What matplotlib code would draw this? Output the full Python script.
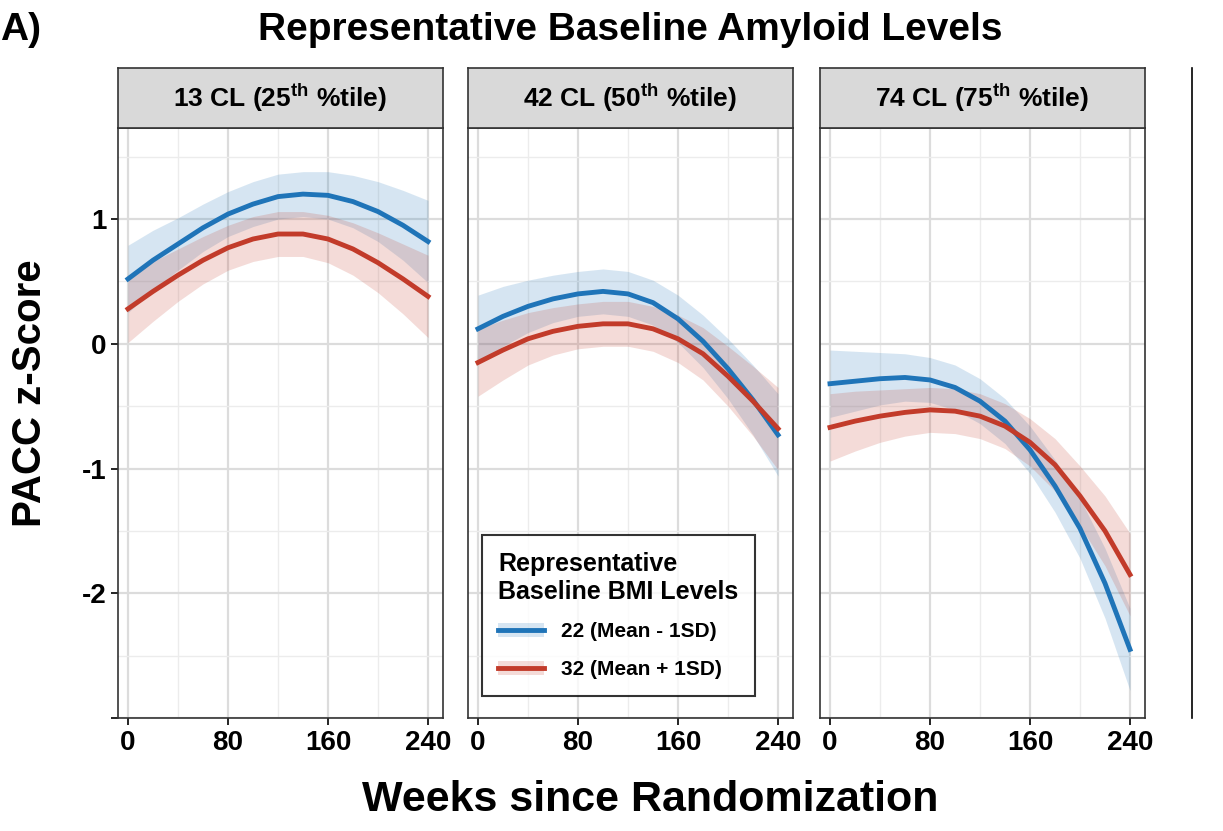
import numpy as np
import matplotlib.pyplot as plt
from matplotlib.patches import Patch
from matplotlib.lines import Line2D

plt.rcParams['font.family'] = ['Liberation Sans', 'DejaVu Sans']
plt.rcParams['axes.unicode_minus'] = False
plt.rcParams['mathtext.fontset'] = 'custom'
plt.rcParams['mathtext.bf'] = 'Liberation Sans:bold'

weeks = [0, 20, 40, 60, 80, 100, 120, 140, 160, 180, 200, 220, 240]
panel_titles = ["13 CL (25$^{\\mathbf{th}}$ %tile)", "42 CL (50$^{\\mathbf{th}}$ %tile)",
                "74 CL (75$^{\\mathbf{th}}$ %tile)"]
bmi_low = [
    [0.52, 0.67, 0.80, 0.93, 1.04, 1.12, 1.18, 1.20, 1.19, 1.14, 1.06, 0.95, 0.82],
    [0.12, 0.22, 0.30, 0.36, 0.40, 0.42, 0.40, 0.33, 0.20, 0.02, -0.20, -0.45, -0.73],
    [-0.32, -0.30, -0.28, -0.27, -0.29, -0.35, -0.46, -0.62, -0.85, -1.14, -1.48, -1.92, -2.45],
]
bmi_high = [
    [0.28, 0.42, 0.55, 0.67, 0.77, 0.84, 0.88, 0.88, 0.84, 0.76, 0.65, 0.52, 0.38],
    [-0.15, -0.05, 0.04, 0.10, 0.14, 0.16, 0.16, 0.12, 0.04, -0.08, -0.26, -0.46, -0.68],
    [-0.67, -0.62, -0.58, -0.55, -0.53, -0.54, -0.58, -0.66, -0.79, -0.97, -1.22, -1.50, -1.85],
]
halfwidth = [0.27, 0.24, 0.21, 0.19, 0.18, 0.18, 0.18, 0.18, 0.19, 0.21, 0.24, 0.28, 0.33]
series_labels = ["22 (Mean - 1SD)", "32 (Mean + 1SD)"]

BLUE = "#1f74b8"
RED = "#c23b2a"

fig = plt.figure(figsize=(12.23, 8.31), dpi=100)
lefts = [118, 468, 820]
W, H = 1223, 831
hw = np.array(halfwidth)
x = np.array(weeks)

for i in range(3):
    ax = fig.add_axes([lefts[i] / W, 1 - 718 / H, 325 / W, 590 / H])
    for vals, c in ((bmi_low[i], BLUE), (bmi_high[i], RED)):
        v = np.array(vals)
        ax.fill_between(x, v - hw, v + hw, color=c, alpha=0.18, lw=0)
        ax.plot(x, v, color=c, lw=3.5)
    ax.set_xlim(-8, 252)
    ax.set_ylim(-3.0, 1.73)
    ax.set_xticks([0, 80, 160, 240])
    ax.set_xticks([40, 120, 200], minor=True)
    ax.set_yticks([-3, -2, -1, 0, 1])
    ax.set_yticklabels(["", "-2", "-1", "0", "1"])
    ax.set_yticks([-2.5, -1.5, -0.5, 0.5, 1.5], minor=True)
    ax.grid(which="major", color="#dcdcdc", lw=1.6)
    ax.grid(which="minor", color="#ececec", lw=1.0)
    ax.set_axisbelow(True)
    ax.tick_params(which="minor", length=0)
    ax.tick_params(which="major", labelsize=20, width=1.2, length=5)
    for lab in ax.get_xticklabels() + ax.get_yticklabels():
        lab.set_fontweight("bold")
    if i > 0:
        ax.tick_params(axis="y", left=False, labelleft=False)
    for s in ax.spines.values():
        s.set_color("#333333")
        s.set_linewidth(1.2)
    # strip
    sax = fig.add_axes([lefts[i] / W, 1 - 128 / H, 325 / W, 60 / H])
    sax.set_xticks([])
    sax.set_yticks([])
    sax.set_facecolor("#d9d9d9")
    for s in sax.spines.values():
        s.set_color("#333333")
        s.set_linewidth(1.2)
    sax.text(0.5, 0.5, panel_titles[i], ha="center", va="center", fontsize=19,
             fontweight="bold", transform=sax.transAxes)
    if i == 1:
        handles = [(Patch(color=BLUE, alpha=0.18, lw=0), Line2D([], [], color=BLUE, lw=3.5)),
                   (Patch(color=RED, alpha=0.18, lw=0), Line2D([], [], color=RED, lw=3.5))]
        leg = ax.legend(handles, series_labels, loc="lower left", bbox_to_anchor=(0.01, 0.02),
                        title="Representative\nBaseline BMI Levels", fontsize=15,
                        title_fontsize=18, frameon=True, fancybox=False,
                        edgecolor="black", borderpad=0.8, labelspacing=0.9,
                        handlelength=2.2)
        leg.get_frame().set_linewidth(1.5)
        leg._legend_box.align = "left"
        leg.get_title().set_fontweight("bold")
        for t in leg.get_texts():
            t.set_fontweight("bold")

fig.text(0.0, 1 - 30 / H, "A)", fontsize=28, fontweight="bold", va="center")
fig.text(630 / W, 1 - 30 / H, "Representative Baseline Amyloid Levels", fontsize=28,
         fontweight="bold", ha="center", va="center")
fig.text(650 / W, 1 - 800 / H, "Weeks since Randomization", fontsize=31,
         fontweight="bold", ha="center", va="center")
fig.text(30 / W, 1 - 393 / H, "PACC z-Score", fontsize=29, fontweight="bold",
         rotation=90, ha="center", va="center")
fig.add_artist(Line2D([1192 / W, 1192 / W], [1 - 68 / H, 1 - 718 / H], color="black", lw=1.2))

fig.savefig("out.png", dpi=100)
